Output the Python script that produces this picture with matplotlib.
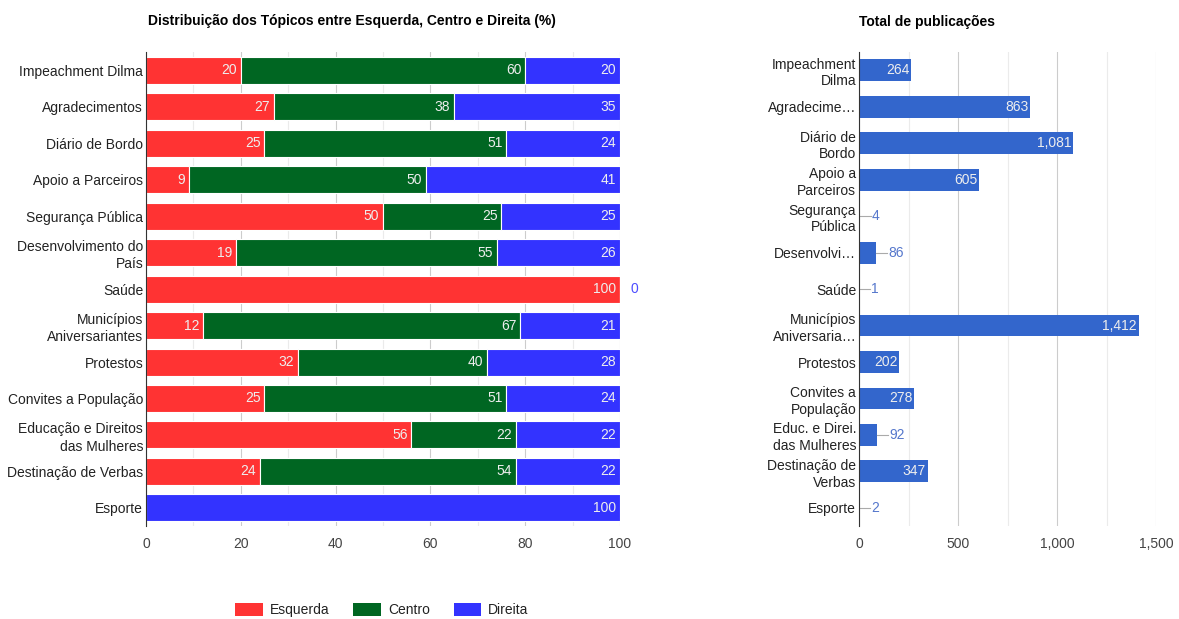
import numpy as np
import matplotlib
matplotlib.use('Agg')
import matplotlib.pyplot as plt
from matplotlib.patches import Patch

plt.rcParams['font.family'] = ['Liberation Sans', 'DejaVu Sans']

# dados
topicos = ['Impeachment Dilma', 'Agradecimentos', 'Diário de Bordo', 'Apoio a Parceiros',
           'Segurança Pública', 'Desenvolvimento do\nPaís', 'Saúde', 'Municípios\nAniversariantes',
           'Protestos', 'Convites a População', 'Educação e Direitos\ndas Mulheres',
           'Destinação de Verbas', 'Esporte']
topicos_curtos = ['Impeachment\nDilma', 'Agradecime…', 'Diário de\nBordo', 'Apoio a\nParceiros',
                  'Segurança\nPública', 'Desenvolvi…', 'Saúde', 'Municípios\nAniversaria…',
                  'Protestos', 'Convites a\nPopulação', 'Educ. e Direi.\ndas Mulheres',
                  'Destinação de\nVerbas', 'Esporte']
esquerda = [20, 27, 25, 9, 50, 19, 100, 12, 32, 25, 56, 24, 0]
centro = [60, 38, 51, 50, 25, 55, 0, 67, 40, 51, 22, 54, 0]
direita = [20, 35, 24, 41, 25, 26, 0, 21, 28, 24, 22, 22, 100]
total_pub = [264, 863, 1081, 605, 4, 86, 1, 1412, 202, 278, 92, 347, 2]

series = [('Esquerda', esquerda, '#ff3333'),
          ('Centro', centro, '#006622'),
          ('Direita', direita, '#3333ff')]

fig = plt.figure(figsize=(11.79, 6.19), dpi=100)
W, H = 1179, 619

# grafico da esquerda - empilhado
ax1 = fig.add_axes([0.1238, 0.150, 0.402, 0.766])
y = np.arange(len(topicos))
left = np.zeros(len(topicos))
for nome, vals, cor in series:
    vals = np.array(vals, dtype=float)
    ax1.barh(y, vals, left=left, height=0.74, color=cor, edgecolor='white', linewidth=0.8, zorder=3)
    for i, v in enumerate(vals):
        fim = left[i] + v
        if v > 0:
            ax1.text(fim - 0.8, y[i], f'{int(v)}', ha='right', va='center',
                     color='#eeeeee', fontsize=10, zorder=4)
        elif nome == 'Direita':
            ax1.text(fim + 2.3, y[i], f'{int(v)}', ha='left', va='center',
                     color='#4d4dff', fontsize=10, zorder=4)
    left = left + vals

ax1.set_xlim(0, 100)
ax1.set_ylim(len(topicos) - 0.5, -0.5)
ax1.set_yticks(y)
ax1.set_yticklabels(topicos, fontsize=10, color='#222222', linespacing=1.3)
ax1.set_xticks(np.arange(0, 101, 20))
ax1.set_xticks(np.arange(10, 100, 20), minor=True)
ax1.tick_params(axis='x', which='both', length=0, labelsize=10, labelcolor='#444444', pad=8)
ax1.tick_params(axis='y', length=0, pad=2)
ax1.grid(axis='x', which='major', color='#cccccc', linewidth=0.8, zorder=0)
ax1.grid(axis='x', which='minor', color='#ebebeb', linewidth=0.8, zorder=0)
for s in ['top', 'right', 'bottom']:
    ax1.spines[s].set_visible(False)
ax1.spines['left'].set_color('#333333')
ax1.spines['left'].set_zorder(5)

# grafico da direita - total
ax2 = fig.add_axes([0.7286, 0.150, 0.2519, 0.766])
ax2.barh(y, total_pub, height=0.6, color='#3366cc', zorder=3)
for i, v in enumerate(total_pub):
    if v >= 150:
        ax2.text(v - 8, y[i], f'{v:,}', ha='right', va='center', color='#eeeeee', fontsize=10, zorder=4)
    else:
        ax2.plot([v, v + 55], [y[i], y[i]], color='#aaaaaa', linewidth=0.8, zorder=4)
        ax2.text(v + 60, y[i], f'{v:,}', ha='left', va='center', color='#5577cc', fontsize=10, zorder=4)

ax2.set_xlim(0, 1500)
ax2.set_ylim(len(topicos) - 0.5, -0.5)
ax2.set_yticks(y)
ax2.set_yticklabels(topicos_curtos, fontsize=10, color='#222222', linespacing=1.25)
ax2.set_xticks([0, 500, 1000, 1500])
ax2.set_xticklabels(['0', '500', '1,000', '1,500'])
ax2.set_xticks([250, 750, 1250], minor=True)
ax2.tick_params(axis='x', which='both', length=0, labelsize=10, labelcolor='#444444', pad=8)
ax2.tick_params(axis='y', length=0, pad=2)
ax2.grid(axis='x', which='major', color='#cccccc', linewidth=0.8, zorder=0)
ax2.grid(axis='x', which='minor', color='#ebebeb', linewidth=0.8, zorder=0)
for s in ['top', 'right', 'bottom']:
    ax2.spines[s].set_visible(False)
ax2.spines['left'].set_color('#333333')
ax2.spines['left'].set_zorder(5)

# titulos
fig.text(352 / W, 1 - 21 / H, 'Distribuição dos Tópicos entre Esquerda, Centro e Direita (%)',
         ha='center', va='center', fontsize=10, fontweight='bold', color='#000000')
fig.text(927 / W, 1 - 22 / H, 'Total de publicações',
         ha='center', va='center', fontsize=10, fontweight='bold', color='#000000')

# legenda
handles = [Patch(facecolor=c, label=n) for n, _, c in series]
fig.legend(handles=handles, loc='center', bbox_to_anchor=(382 / W, 1 - 610 / H), ncol=3,
           frameon=False, fontsize=10, handlelength=2.0, handleheight=1.1,
           columnspacing=1.7, handletextpad=0.5, labelcolor='#222222')

fig.savefig('out.png', dpi=100, facecolor='white')
